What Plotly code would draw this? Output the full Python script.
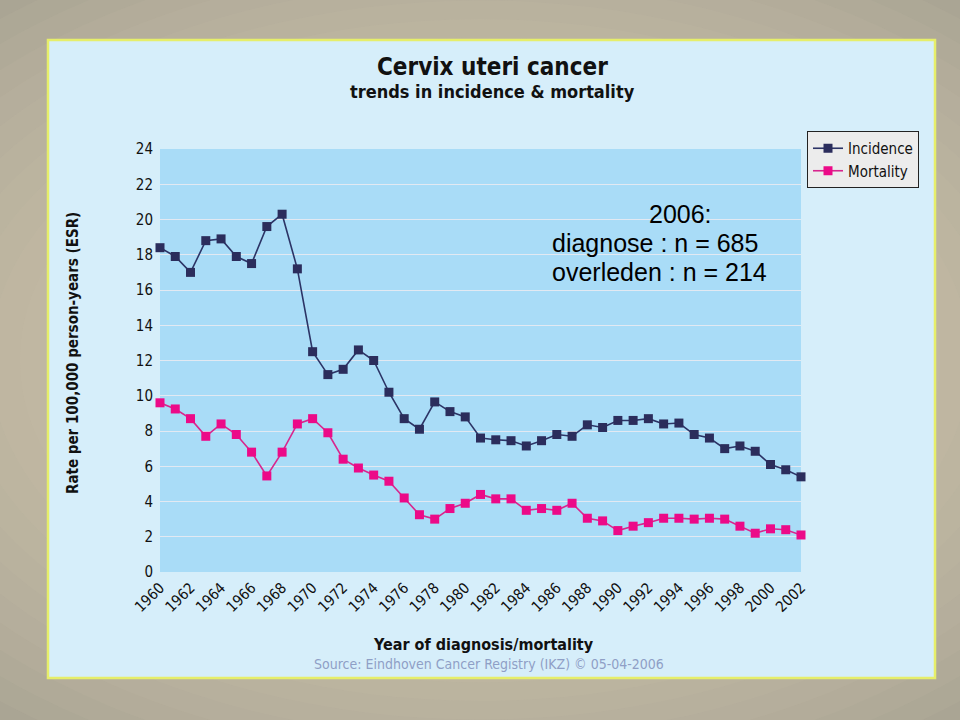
import plotly.graph_objects as go

years = list(range(1960, 2003))
incidence = [18.4, 17.9, 17.0, 18.8, 18.9, 17.9, 17.5, 19.6, 20.3, 17.2,
             12.5, 11.2, 11.5, 12.6, 12.0, 10.2, 8.7, 8.1, 9.65, 9.1,
             8.8, 7.6, 7.5, 7.45, 7.15, 7.45, 7.8, 7.7, 8.35, 8.2,
             8.6, 8.6, 8.7, 8.4, 8.45, 7.8, 7.6, 7.0, 7.15, 6.85,
             6.1, 5.8, 5.4]
mortality = [9.6, 9.25, 8.7, 7.7, 8.4, 7.8, 6.8, 5.45, 6.8, 8.4,
             8.7, 7.9, 6.4, 5.9, 5.5, 5.15, 4.2, 3.25, 3.0, 3.6,
             3.9, 4.4, 4.15, 4.15, 3.5, 3.6, 3.5, 3.9, 3.05, 2.9,
             2.35, 2.6, 2.8, 3.05, 3.05, 3.0, 3.05, 3.0, 2.6, 2.2,
             2.45, 2.4, 2.1]
x_ticks = list(range(1960, 2003, 2))
y_ticks = list(range(0, 25, 2))

title = "Cervix uteri cancer"
subtitle = "trends in incidence &amp; mortality"
note_lines = ["2006:", "diagnose : n = 685", "overleden : n = 214"]

W, H = 960, 720
L, R, T, B = 160, 801, 149, 572
def px(x):
    return (x - L) / (R - L)
def py(y):
    return (B - y) / (B - T)

FONT = "DejaVu Sans Condensed"

fig = go.Figure()
fig.add_trace(go.Scatter(
    x=years, y=incidence, name="Incidence", mode="lines+markers",
    line=dict(color="#2c3466", width=1.6),
    marker=dict(symbol="square", size=9, color="#2b2d5c"),
    cliponaxis=False,
))
fig.add_trace(go.Scatter(
    x=years, y=mortality, name="Mortality", mode="lines+markers",
    line=dict(color="#d8268e", width=1.6),
    marker=dict(symbol="square", size=9, color="#ec0a88"),
    cliponaxis=False,
))

shapes = []
# soft radial gradient for outer background
n_rings = 14
for i in range(n_rings):
    rx = 820 - i * 30
    shapes.append(dict(type="circle", xref="paper", yref="paper",
                       x0=px(480 - rx), x1=px(480 + rx),
                       y0=py(360 + rx * 0.62), y1=py(360 - rx * 0.62),
                       fillcolor="#d2c9b2", opacity=0.09, line=dict(width=0), layer="below"))
# inner panel
shapes.append(dict(type="rect", xref="paper", yref="paper",
                   x0=px(48), x1=px(935), y0=py(678), y1=py(40),
                   fillcolor="#d6eefa", line=dict(color="#e6ee6a", width=2.5), layer="below"))
# plot area background
shapes.append(dict(type="rect", xref="paper", yref="paper",
                   x0=0, x1=1, y0=0, y1=1,
                   fillcolor="#a9dcf7", line=dict(width=0), layer="below"))

annotations = [
    dict(text="<b>" + title + "</b>", x=px(492), y=py(67), xref="paper", yref="paper",
         showarrow=False, font=dict(family=FONT, size=24, color="#111111"),
         xanchor="center", yanchor="middle"),
    dict(text="<b>" + subtitle + "</b>", x=px(492), y=py(91), xref="paper", yref="paper",
         showarrow=False, font=dict(family=FONT, size=18, color="#111111"),
         xanchor="center", yanchor="middle"),
    dict(text="<b>Rate per 100,000 person-years (ESR)</b>", x=px(73), y=py(353),
         xref="paper", yref="paper", showarrow=False, textangle=-90,
         font=dict(family=FONT, size=15, color="#111111"),
         xanchor="center", yanchor="middle"),
    dict(text="<b>Year of diagnosis/mortality</b>", x=px(483), y=py(644),
         xref="paper", yref="paper", showarrow=False,
         font=dict(family=FONT, size=16, color="#111111"),
         xanchor="center", yanchor="middle"),
    dict(text="Source: Eindhoven Cancer Registry (IKZ) © 05-04-2006", x=px(489), y=py(664),
         xref="paper", yref="paper", showarrow=False,
         font=dict(family=FONT, size=14, color="#8f9fc6"),
         xanchor="center", yanchor="middle"),
    dict(text=note_lines[0], x=px(647), y=py(214), xref="paper", yref="paper",
         showarrow=False, font=dict(family="Liberation Sans", size=25, color="#000000"),
         xanchor="left", yanchor="middle"),
    dict(text=note_lines[1], x=px(550), y=py(243), xref="paper", yref="paper",
         showarrow=False, font=dict(family="Liberation Sans", size=25, color="#000000"),
         xanchor="left", yanchor="middle"),
    dict(text=note_lines[2], x=px(550), y=py(272), xref="paper", yref="paper",
         showarrow=False, font=dict(family="Liberation Sans", size=25, color="#000000"),
         xanchor="left", yanchor="middle"),
]

fig.update_layout(
    width=W, height=H,
    margin=dict(l=L, r=W - R, t=T, b=H - B, pad=0),
    paper_bgcolor="#9f9b8c",
    plot_bgcolor="rgba(0,0,0,0)",
    shapes=shapes,
    annotations=annotations,
    showlegend=True,
    legend=dict(x=px(807), y=py(131), xanchor="left", yanchor="top",
                bgcolor="#ececec", bordercolor="#222222", borderwidth=1,
                font=dict(family=FONT, size=15, color="#111111"),
                itemwidth=30, tracegroupgap=0),
    font=dict(family=FONT, color="#111111"),
)
fig.update_xaxes(range=[1960, 2002], tickvals=x_ticks, ticktext=[str(v) for v in x_ticks],
                 tickangle=-45, showgrid=False, zeroline=False, showline=False,
                 tickfont=dict(family=FONT, size=15, color="#111111"), ticks="",
                 ticklabelstandoff=3)
fig.update_yaxes(range=[0, 24], tickvals=y_ticks, showgrid=True, gridcolor="#e2e9f2",
                 gridwidth=1, zeroline=False, showline=False,
                 tickfont=dict(family=FONT, size=15, color="#111111"), ticks="",
                 ticklabelstandoff=6)

fig.write_html("out.html", config={"displayModeBar": False},
               post_script="document.body.style.margin='0';document.body.style.overflow='hidden';")
